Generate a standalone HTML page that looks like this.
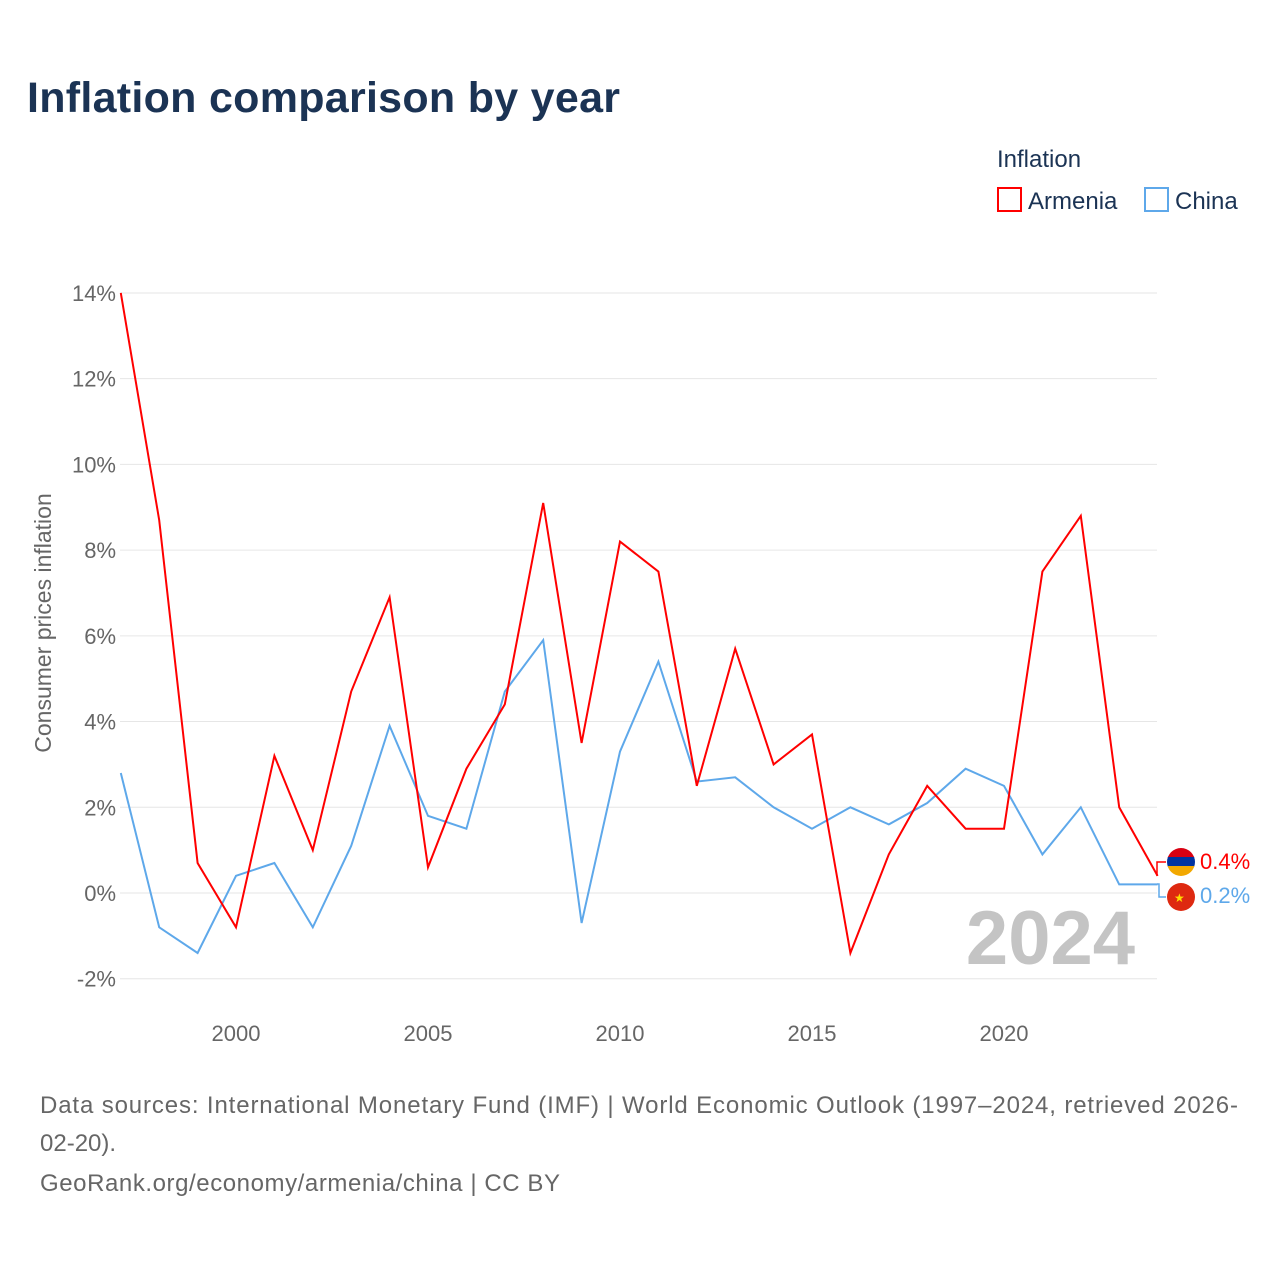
<!DOCTYPE html>
<html><head><meta charset="utf-8"><style>
body{margin:0;background:#fff;font-family:"Liberation Sans",sans-serif;}
</style></head><body>
<svg width="1280" height="1280" viewBox="0 0 1280 1280" xmlns="http://www.w3.org/2000/svg" font-family="Liberation Sans, sans-serif">
<text x="27" y="112" font-size="43" font-weight="bold" fill="#1b3354" textLength="593">Inflation comparison by year</text>
<text x="997" y="167" font-size="24" fill="#1b3354">Inflation</text>
<g><rect x="998" y="188" width="23" height="23" fill="none" stroke="#f00" stroke-width="2"/><text x="1028" y="209" font-size="24" fill="#1b3354">Armenia</text></g>
<g><rect x="1145" y="188" width="23" height="23" fill="none" stroke="#5ea8ea" stroke-width="2"/><text x="1175" y="209" font-size="24" fill="#1b3354">China</text></g>
<g id="grid"></g>
<g id="yt"></g>
<g id="xt"></g>
<text transform="translate(51,623) rotate(-90)" text-anchor="middle" font-size="23" fill="#666">Consumer prices inflation</text>
<text x="1135" y="964" text-anchor="end" font-size="76" font-weight="bold" fill="#c4c4c4">2024</text>
<g id="series"></g>
<polyline points="1157,876 1157,862 1166,862" fill="none" stroke="#f00" stroke-width="1.5"/>
<polyline points="1157,884 1159,884 1159,897 1166,897" fill="none" stroke="#5ea8ea" stroke-width="1.5"/>
<g>
<clipPath id="ca"><circle cx="1181" cy="862" r="14"/></clipPath>
<g clip-path="url(#ca)"><rect x="1167" y="848" width="28" height="10" fill="#d90012"/><rect x="1167" y="857" width="28" height="10" fill="#0033a0"/><rect x="1167" y="866" width="28" height="10" fill="#f2a800"/></g>
<text x="1200" y="869" font-size="22" fill="#f00">0.4%</text></g>
<g>
<circle cx="1181" cy="897" r="14" fill="#de2910"/><text x="1174" y="902" font-size="12" fill="#ffde00">★</text>
<text x="1200" y="903" font-size="22" fill="#5ea8ea">0.2%</text></g>
<text x="40" y="1113" font-size="24" fill="#666" textLength="1198">Data sources: International Monetary Fund (IMF) | World Economic Outlook (1997–2024, retrieved 2026-</text>
<text x="40" y="1151" font-size="24" fill="#666">02-20).</text>
<text x="40" y="1191" font-size="24" fill="#666" textLength="520">GeoRank.org/economy/armenia/china | CC BY</text>
</svg>
<script>
const years=[1997,1998,1999,2000,2001,2002,2003,2004,2005,2006,2007,2008,2009,2010,2011,2012,2013,2014,2015,2016,2017,2018,2019,2020,2021,2022,2023,2024];
const armenia=[14.0,8.7,0.7,-0.8,3.2,1.0,4.7,6.9,0.6,2.9,4.4,9.1,3.5,8.2,7.5,2.5,5.7,3.0,3.7,-1.4,0.9,2.5,1.5,1.5,7.5,8.8,2.0,0.4];
const china=[2.8,-0.8,-1.4,0.4,0.7,-0.8,1.1,3.9,1.8,1.5,4.7,5.9,-0.7,3.3,5.4,2.6,2.7,2.0,1.5,2.0,1.6,2.1,2.9,2.5,0.9,2.0,0.2,0.2];
const yTicks=[-2,0,2,4,6,8,10,12,14];
const xTicks=[2000,2005,2010,2015,2020];
const NS="http://www.w3.org/2000/svg";
const X=y=>120.8+(y-1997)*38.4;
const Y=v=>893-v*42.86;
const grid=document.getElementById('grid'),yt=document.getElementById('yt'),xt=document.getElementById('xt'),ser=document.getElementById('series');
yTicks.forEach(t=>{
 const l=document.createElementNS(NS,'line');
 l.setAttribute('x1',120);l.setAttribute('x2',1157);l.setAttribute('y1',Y(t));l.setAttribute('y2',Y(t));
 l.setAttribute('stroke','#e6e6e6');
 
 
 grid.appendChild(l);
 const tx=document.createElementNS(NS,'text');
 tx.setAttribute('x',116);tx.setAttribute('y',Y(t)+8);tx.setAttribute('text-anchor','end');
 tx.setAttribute('font-size','22');tx.setAttribute('fill','#666');
 tx.textContent=t+'%';
 
 
 yt.appendChild(tx);
});
xTicks.forEach(t=>{
 const tx=document.createElementNS(NS,'text');
 tx.setAttribute('x',X(t));tx.setAttribute('y',1041);tx.setAttribute('text-anchor','middle');
 tx.setAttribute('font-size','22');tx.setAttribute('fill','#666');
 tx.textContent=t;
 
 
 xt.appendChild(tx);
});
function line(vals,color,name){
 const p=document.createElementNS(NS,'polyline');
 p.setAttribute('points',vals.map((v,i)=>X(years[i])+','+Y(v)).join(' '));
 p.setAttribute('fill','none');p.setAttribute('stroke',color);p.setAttribute('stroke-width','2');
 
 
 ser.appendChild(p);
}
line(china,'#5ea8ea','china-line');
line(armenia,'#f00','armenia-line');
</script>
</body></html>
